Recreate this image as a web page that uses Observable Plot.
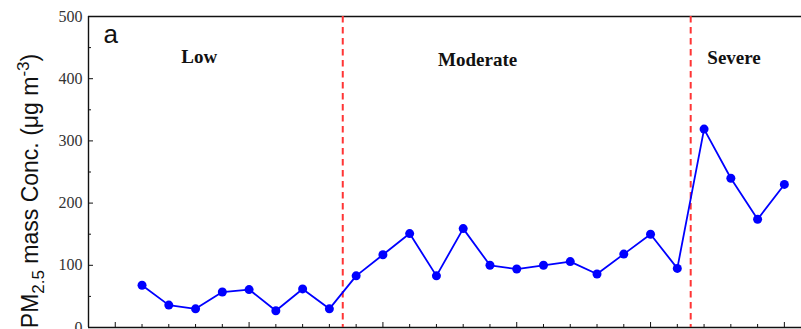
<!DOCTYPE html>
<html>
<head>
<meta charset="utf-8">
<script src="https://cdn.jsdelivr.net/npm/d3@7"></script>
<script src="https://cdn.jsdelivr.net/npm/@observablehq/plot@0.6"></script>
<style>
  body { margin: 0; background: #fff; }
  #chart svg { display: block; }
</style>
</head>
<body>
<div id="chart"></div>
<script>
// Sample number along the campaign and the PM2.5 mass concentration (µg m-3)
const sampleIndex = [1, 2, 3, 4, 5, 6, 7, 8, 9, 10, 11, 12, 13, 14, 15, 16, 17, 18, 19, 20, 21, 22, 23, 24, 25];
const pm25 = [68, 36, 30, 57, 61, 27, 62, 30, 83, 117, 151, 83, 159, 100, 94, 100, 106, 86, 118, 150, 95, 319, 240, 174, 230];

// Pollution regimes and the boundaries between them
const regionNames = ["Low", "Moderate", "Severe"];
const regionCenters = [3.14, 13.54, 23.12];
const regionLabelY = [435, 430, 433];
const regionBreaks = [8.5, 21.5];

// Axis ticks
const yMajorTicks = [0, 100, 200, 300, 400, 500];
const yMinorTicks = [50, 150, 250, 350, 450];
const xMajorTicks = [0, 5, 10, 15, 20, 25];
const xMinorTicks = [1, 2, 3, 4, 6, 7, 8, 9, 11, 12, 13, 14, 16, 17, 18, 19, 21, 22, 23, 24];

const rows = sampleIndex.map((s, i) => ({sample: s, pm: pm25[i]}));

const serif = "'Liberation Serif', 'Times New Roman', serif";
const sans = "'Liberation Sans', Arial, sans-serif";

const plot = Plot.plot({
  width: 801,
  height: 329,
  marginLeft: 88,
  marginRight: 0,
  marginTop: 16,
  marginBottom: 2,
  x: {type: "linear", domain: [-1, 25.64]},
  y: {type: "linear", domain: [0, 500]},
  style: {fontFamily: serif, background: "white", color: "#111"},
  marks: [
    // inward-facing ticks, labels on the value axis only
    Plot.axisY(yMajorTicks, {tickSize: -5, tickPadding: 11, fontSize: 16, fill: "#333", label: null, tickFormat: d => d}),
    Plot.axisY(yMinorTicks, {tickSize: -3, fill: "none", label: null}),
    Plot.axisX(xMajorTicks, {tickSize: -5, fill: "none", label: null}),
    Plot.axisX(xMinorTicks, {tickSize: -3, fill: "none", label: null}),
    // frame
    Plot.ruleX([-1], {stroke: "#111", strokeWidth: 1.4}),
    Plot.ruleY([0, 500], {stroke: "#111", strokeWidth: 1.4}),
    // regime boundaries
    Plot.ruleX(regionBreaks, {stroke: "#ff3535", strokeWidth: 2, strokeDasharray: "6.5,4.5"}),
    // concentration series
    Plot.line(rows, {x: "sample", y: "pm", stroke: "#0000ff", strokeWidth: 1.8}),
    Plot.dot(rows, {x: "sample", y: "pm", r: 4.5, fill: "#0000ff", stroke: "none"}),
    // regime labels
    Plot.text(regionNames, {
      x: (d, i) => regionCenters[i],
      y: (d, i) => regionLabelY[i],
      text: d => d,
      fontSize: 19,
      fontWeight: "bold",
      fontFamily: serif,
      fill: "#111"
    }),
    // panel letter
    Plot.text(["a"], {
      frameAnchor: "top-left",
      text: d => d,
      textAnchor: "start",
      lineAnchor: "top",
      dx: 15,
      dy: 8.5,
      fontSize: 26,
      fontFamily: sans,
      fill: "#111"
    })
  ]
});

// y-axis title with subscript and superscript
const svg = d3.select(plot);
const title = svg.append("text")
  .attr("transform", "translate(38,191) rotate(-90)")
  .attr("text-anchor", "middle")
  .attr("font-family", sans)
  .attr("font-size", 23)
  .attr("fill", "#111");
title.append("tspan").text("PM");
title.append("tspan").attr("font-size", 17).attr("dy", 6).text("2.5");
title.append("tspan").attr("dy", -6).text(" mass Conc. (\u03bcg m");
title.append("tspan").attr("font-size", 17).attr("dy", -9).text("-3");
title.append("tspan").attr("dy", 9).text(")");

document.getElementById("chart").appendChild(plot);
</script>
</body>
</html>
